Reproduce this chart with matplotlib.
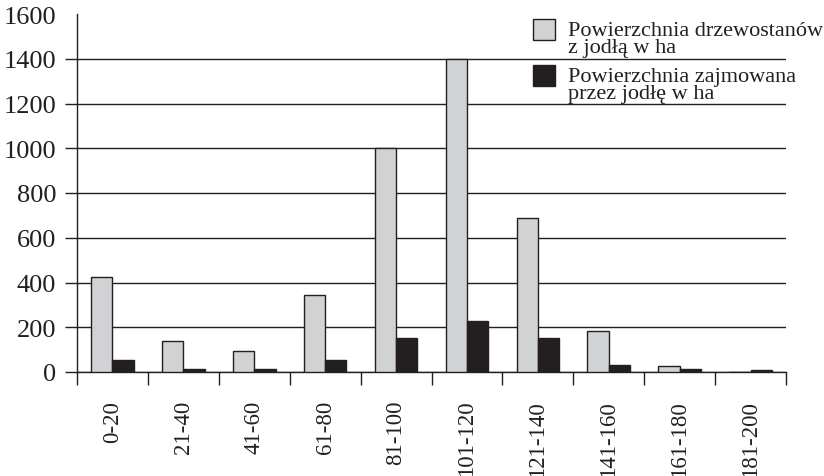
import numpy as np
import matplotlib.pyplot as plt
from matplotlib.patches import Rectangle

# age classes of stands (years)
age_classes = ['0-20', '21-40', '41-60', '61-80', '81-100',
               '101-120', '121-140', '141-160', '161-180', '181-200']
# area of stands with fir, ha
stand_area = [425, 139, 93, 342, 1003, 1400, 688, 185, 27, 0]
# area occupied by fir, ha
fir_area = [55, 14, 13, 55, 151, 227, 151, 30, 13, 9]

legend_labels = [('Powierzchnia drzewostanów', 'z jodłą w ha'),
                 ('Powierzchnia zajmowana', 'przez jodłę w ha')]

INK = '#231f20'
GREY = '#d1d2d4'

plt.rcParams['font.family'] = ['Liberation Serif', 'DejaVu Serif']
plt.rcParams['text.color'] = INK
plt.rcParams['xtick.color'] = INK
plt.rcParams['ytick.color'] = INK

W, H = 824, 477
fig = plt.figure(figsize=(W / 100, H / 100), dpi=100)
ax = fig.add_axes([77 / W, 1 - 373 / H, (786 - 77) / W, (373 - 15) / H])

x = np.arange(len(age_classes))
w = 0.3
ax.bar(x - w / 2, stand_area, w, color=GREY, edgecolor=INK, linewidth=1.0, zorder=3)
ax.bar(x + w / 2, fir_area, w, color=INK, edgecolor=INK, linewidth=1.0, zorder=3)

ax.set_xlim(-0.5, len(age_classes) - 0.5)
ax.set_ylim(0, 1600)

ax.set_yticks(range(0, 1601, 200))
ax.tick_params(axis='y', direction='out', length=9, width=1.0, labelsize=19, pad=6)
ax.yaxis.grid(True, color=INK, linewidth=1.0)
ax.set_axisbelow(True)
top_tick = ax.yaxis.get_major_ticks()[-1]
top_tick.tick1line.set_visible(False)
top_tick.gridline.set_visible(False)

ax.set_xticks(x)
ax.set_xticklabels(age_classes, rotation=90)
ax.set_xticks(np.arange(-0.5, len(age_classes)), minor=True)
ax.tick_params(axis='x', which='major', length=0, labelsize=16.5, pad=20)
ax.tick_params(axis='x', which='minor', direction='out', length=9, width=1.0)

for side in ('top', 'right'):
    ax.spines[side].set_visible(False)
for side in ('left', 'bottom'):
    ax.spines[side].set_color(INK)
    ax.spines[side].set_linewidth(1.0)

# legend: square swatch next to the first line of each two-line label
for colour, (line1, line2), top in zip([GREY, INK], legend_labels, [20, 66]):
    fig.patches.append(Rectangle((533 / W, 1 - (top + 21) / H), 22 / W, 21 / H,
                                 transform=fig.transFigure, facecolor=colour,
                                 edgecolor=INK, linewidth=1.0))
    base = top + 16
    fig.text(568 / W, 1 - base / H, line1, fontsize=16, va='baseline', ha='left')
    fig.text(568 / W, 1 - (base + 17.5) / H, line2, fontsize=16, va='baseline', ha='left')

fig.savefig('out.png', dpi=100)
